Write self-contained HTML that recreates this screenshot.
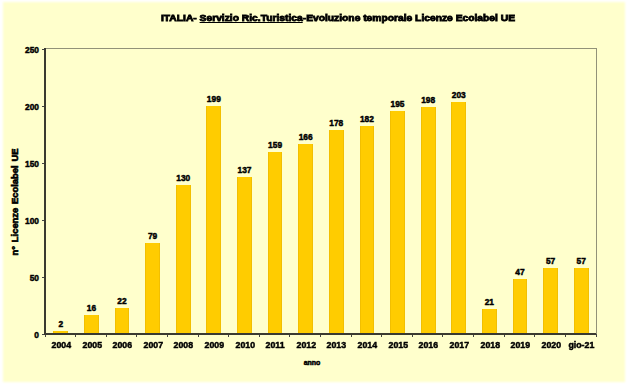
<!DOCTYPE html>
<html><head><meta charset="utf-8"><style>
html,body{margin:0;padding:0;}
body{width:628px;height:385px;background:#fff;position:relative;overflow:hidden;font-family:"Liberation Sans", sans-serif;}
#ca{position:absolute;left:2.5px;top:2px;width:622px;height:380px;background:#FFFFCC;filter:blur(0.8px);}
.bar{position:absolute;background:#FFCC00;box-shadow:inset 1px 0 0 #F2BF00,inset -1px 0 0 #F2BF00;}
.dl,.xl,.yl{position:absolute;font-weight:bold;color:#000;-webkit-text-stroke:0.45px #000;white-space:nowrap;}
.dl,.xl{width:40px;text-align:center;font-size:8.4px;line-height:10px;}
.dl span,.xl span,.yl span{display:inline-block;}
.xl span{transform:scaleX(1.05);}
.yl span{transform-origin:100% 50%;}
.xt{position:absolute;top:334px;width:1px;height:3px;background:#444;}
.yt{position:absolute;left:42px;width:3px;height:1px;background:#444;}
.yl{left:0px;width:39px;text-align:right;font-size:8.4px;line-height:10px;}
#plot{position:absolute;left:45px;top:48px;width:551px;height:285px;border-top:1px solid #929278;border-right:1px solid #929278;}
#yax{position:absolute;left:44px;top:48px;width:2px;height:287px;background:#3a3a30;}
#xax{position:absolute;left:44px;top:333px;width:552px;height:2px;background:#3a3a30;}
#title{position:absolute;left:161px;top:11px;font-weight:bold;font-size:9px;line-height:14px;white-space:nowrap;transform:scaleX(1.141);transform-origin:0 50%;-webkit-text-stroke:0.8px #000;word-spacing:0px;}
#title u{text-decoration:underline;}
#ytitle{position:absolute;left:15px;top:201.5px;transform:translate(-50%,-50%) rotate(-90deg);font-weight:bold;font-size:9.4px;line-height:10px;white-space:nowrap;-webkit-text-stroke:0.6px #000;word-spacing:1.2px;}
#xtitle{position:absolute;left:312px;top:361.5px;transform:translate(-50%,-50%);font-weight:bold;font-size:7px;line-height:7px;-webkit-text-stroke:0.5px #000;}
</style></head><body>
<div id="ca"></div>
<div id="plot"></div>
<div class="bar" style="left:53.41px;top:330.72px;width:14.8px;height:3.28px"></div><div class="dl" style="left:40.81px;top:318.72px"><span>2</span></div><div class="xl" style="left:41.31px;top:340px"><span>2004</span></div><div class="bar" style="left:84.02px;top:314.76px;width:14.8px;height:19.24px"></div><div class="dl" style="left:71.42px;top:302.76px"><span>16</span></div><div class="xl" style="left:71.92px;top:340px"><span>2005</span></div><div class="bar" style="left:114.63px;top:307.92px;width:14.8px;height:26.08px"></div><div class="dl" style="left:102.03px;top:295.92px"><span>22</span></div><div class="xl" style="left:102.53px;top:340px"><span>2006</span></div><div class="bar" style="left:145.24px;top:242.94px;width:14.8px;height:91.06px"></div><div class="dl" style="left:132.64px;top:230.94px"><span>79</span></div><div class="xl" style="left:133.14px;top:340px"><span>2007</span></div><div class="bar" style="left:175.85px;top:184.80px;width:14.8px;height:149.20px"></div><div class="dl" style="left:163.25px;top:172.80px"><span>130</span></div><div class="xl" style="left:163.75px;top:340px"><span>2008</span></div><div class="bar" style="left:206.46px;top:106.14px;width:14.8px;height:227.86px"></div><div class="dl" style="left:193.86px;top:94.14px"><span>199</span></div><div class="xl" style="left:194.36px;top:340px"><span>2009</span></div><div class="bar" style="left:237.07px;top:176.82px;width:14.8px;height:157.18px"></div><div class="dl" style="left:224.47px;top:164.82px"><span>137</span></div><div class="xl" style="left:224.97px;top:340px"><span>2010</span></div><div class="bar" style="left:267.68px;top:151.74px;width:14.8px;height:182.26px"></div><div class="dl" style="left:255.08px;top:139.74px"><span>159</span></div><div class="xl" style="left:255.58px;top:340px"><span>2011</span></div><div class="bar" style="left:298.29px;top:143.76px;width:14.8px;height:190.24px"></div><div class="dl" style="left:285.69px;top:131.76px"><span>166</span></div><div class="xl" style="left:286.19px;top:340px"><span>2012</span></div><div class="bar" style="left:328.91px;top:130.08px;width:14.8px;height:203.92px"></div><div class="dl" style="left:316.31px;top:118.08px"><span>178</span></div><div class="xl" style="left:316.81px;top:340px"><span>2013</span></div><div class="bar" style="left:359.52px;top:125.52px;width:14.8px;height:208.48px"></div><div class="dl" style="left:346.92px;top:113.52px"><span>182</span></div><div class="xl" style="left:347.42px;top:340px"><span>2014</span></div><div class="bar" style="left:390.13px;top:110.70px;width:14.8px;height:223.30px"></div><div class="dl" style="left:377.53px;top:98.70px"><span>195</span></div><div class="xl" style="left:378.03px;top:340px"><span>2015</span></div><div class="bar" style="left:420.74px;top:107.28px;width:14.8px;height:226.72px"></div><div class="dl" style="left:408.14px;top:95.28px"><span>198</span></div><div class="xl" style="left:408.64px;top:340px"><span>2016</span></div><div class="bar" style="left:451.35px;top:101.58px;width:14.8px;height:232.42px"></div><div class="dl" style="left:438.75px;top:89.58px"><span>203</span></div><div class="xl" style="left:439.25px;top:340px"><span>2017</span></div><div class="bar" style="left:481.96px;top:309.06px;width:14.8px;height:24.94px"></div><div class="dl" style="left:469.36px;top:297.06px"><span>21</span></div><div class="xl" style="left:469.86px;top:340px"><span>2018</span></div><div class="bar" style="left:512.57px;top:279.42px;width:14.8px;height:54.58px"></div><div class="dl" style="left:499.97px;top:267.42px"><span>47</span></div><div class="xl" style="left:500.47px;top:340px"><span>2019</span></div><div class="bar" style="left:543.18px;top:268.02px;width:14.8px;height:65.98px"></div><div class="dl" style="left:530.58px;top:256.02px"><span>57</span></div><div class="xl" style="left:531.08px;top:340px"><span>2020</span></div><div class="bar" style="left:573.79px;top:268.02px;width:14.8px;height:65.98px"></div><div class="dl" style="left:561.19px;top:256.02px"><span>57</span></div><div class="xl" style="left:561.69px;top:340px"><span>gio-21</span></div><div class="xt" style="left:44.50px"></div><div class="xt" style="left:75.11px"></div><div class="xt" style="left:105.72px"></div><div class="xt" style="left:136.33px"></div><div class="xt" style="left:166.94px"></div><div class="xt" style="left:197.56px"></div><div class="xt" style="left:228.17px"></div><div class="xt" style="left:258.78px"></div><div class="xt" style="left:289.39px"></div><div class="xt" style="left:320.00px"></div><div class="xt" style="left:350.61px"></div><div class="xt" style="left:381.22px"></div><div class="xt" style="left:411.83px"></div><div class="xt" style="left:442.44px"></div><div class="xt" style="left:473.06px"></div><div class="xt" style="left:503.67px"></div><div class="xt" style="left:534.28px"></div><div class="xt" style="left:564.89px"></div><div class="xt" style="left:595.50px"></div><div class="yt" style="top:333.50px"></div><div class="yl" style="top:329.50px"><span>0</span></div><div class="yt" style="top:276.50px"></div><div class="yl" style="top:272.50px"><span>50</span></div><div class="yt" style="top:219.50px"></div><div class="yl" style="top:215.50px"><span>100</span></div><div class="yt" style="top:162.50px"></div><div class="yl" style="top:158.50px"><span>150</span></div><div class="yt" style="top:105.50px"></div><div class="yl" style="top:101.50px"><span>200</span></div><div class="yt" style="top:48.50px"></div><div class="yl" style="top:44.50px"><span>250</span></div>
<div id="yax"></div>
<div id="xax"></div>
<div id="title">ITALIA- <u>Servizio Ric.Turistica</u>-Evoluzione temporale Licenze Ecolabel UE</div>
<div id="ytitle">n° Licenze Ecolabel UE</div>
<div id="xtitle">anno</div>
</body></html>
